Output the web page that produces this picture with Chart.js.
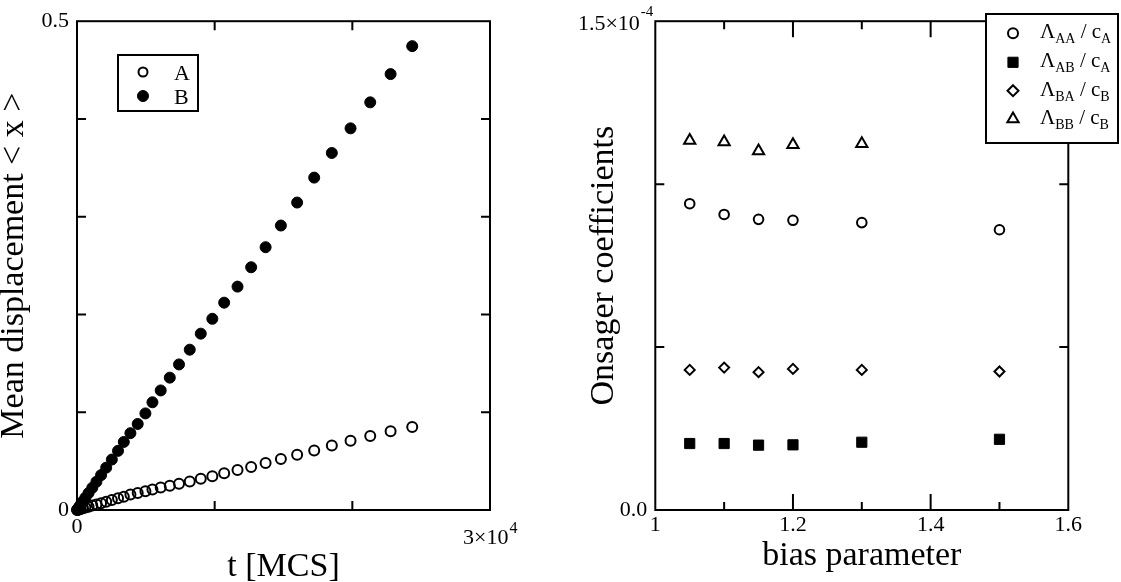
<!doctype html>
<html lang="en">
<head>
<meta charset="UTF-8">
<title>Mean displacement and Onsager coefficients</title>
<script src="https://cdn.jsdelivr.net/npm/chart.js"></script>
<style>
	body { margin: 0; background: #fff; }
	#left { position: absolute; left: 0; top: 0; }
	#right { position: absolute; left: 560px; top: 0; }
</style>
</head>
<body>
<canvas id="left" width="560" height="582"></canvas>
<canvas id="right" width="561" height="582"></canvas>
<script>
// left panel : mean displacement < x > against time
var times = [10, 60, 150, 260, 420, 610, 840, 1110, 1410, 1750, 2120, 2530, 2980, 3400, 3880, 4410, 4970, 5480,
	6080, 6740, 7410, 8190, 8990, 9830, 10690, 11660, 12650, 13700, 14810, 15990, 17230, 18510, 19870, 21300, 22780, 24350];
var dispA = [0.0001, 0.0003, 0.0006, 0.0011, 0.0017, 0.0025, 0.0034, 0.0045, 0.0057, 0.0070, 0.0085, 0.0102, 0.0120,
	0.0136, 0.0158, 0.0174, 0.0192, 0.0209, 0.0229, 0.0249, 0.0269, 0.0292, 0.0320, 0.0346, 0.0376, 0.0410, 0.0441,
	0.0481, 0.0521, 0.0565, 0.0608, 0.0659, 0.0709, 0.0756, 0.0806, 0.0850];
var dispB = [0.0002, 0.0012, 0.0030, 0.0054, 0.0087, 0.0126, 0.0173, 0.0227, 0.0289, 0.0357, 0.0433, 0.0516, 0.0605,
	0.0696, 0.0786, 0.0880, 0.0988, 0.1102, 0.1223, 0.1354, 0.1489, 0.1640, 0.1804, 0.1956, 0.2121, 0.2285, 0.2483,
	0.2688, 0.2910, 0.3145, 0.3400, 0.3652, 0.3904, 0.4170, 0.4459, 0.4745];
var leftLabels = ['A', 'B'];

// right panel : Onsager coefficients against bias parameter
var bias = [1.05, 1.1, 1.15, 1.2, 1.3, 1.5];
var lamAA = [0.940e-4, 0.907e-4, 0.892e-4, 0.889e-4, 0.882e-4, 0.860e-4];
var lamAB = [0.204e-4, 0.204e-4, 0.199e-4, 0.200e-4, 0.208e-4, 0.217e-4];
var lamBA = [0.430e-4, 0.437e-4, 0.423e-4, 0.433e-4, 0.430e-4, 0.425e-4];
var lamBB = [1.134e-4, 1.129e-4, 1.102e-4, 1.121e-4, 1.124e-4]; // the 1.5 point sits under the legend
var rightLabels = ['Λ_{AA} / c_{A}', 'Λ_{AB} / c_{A}', 'Λ_{BA} / c_{B}', 'Λ_{BB} / c_{B}'];

var fam = "'Liberation Serif', 'Times New Roman', serif";

function pts(xs, ys) {
	var out = [];
	for (var i = 0; i < ys.length; i++) out.push({x: xs[i], y: ys[i]});
	return out;
}

function marker(ctx, style, x, y, r) {
	ctx.beginPath();
	if (style === 'rect') {
		var s = r * Math.SQRT1_2;
		ctx.rect(x - s, y - s, 2 * s, 2 * s);
	} else if (style === 'rectRot') {
		ctx.moveTo(x, y - r); ctx.lineTo(x + r, y); ctx.lineTo(x, y + r); ctx.lineTo(x - r, y);
		ctx.closePath();
	} else if (style === 'triangle') {
		var a = 0;
		ctx.moveTo(x + Math.sin(a) * r, y - Math.cos(a) * r);
		a += 2 * Math.PI / 3;
		ctx.lineTo(x + Math.sin(a) * r, y - Math.cos(a) * r);
		a += 2 * Math.PI / 3;
		ctx.lineTo(x + Math.sin(a) * r, y - Math.cos(a) * r);
		ctx.closePath();
	} else {
		ctx.arc(x, y, r, 0, Math.PI * 2);
	}
	ctx.fill();
	ctx.stroke();
}

// frame with inward ticks, exponent labels and the boxed legend
var framePlugin = {
	id: 'frame',
	beforeDatasetsDraw: function(chart, args, o) {
		var ctx = chart.ctx, a = chart.chartArea, xs = chart.scales.x, ys = chart.scales.y;
		ctx.save();
		ctx.strokeStyle = '#000';
		ctx.lineWidth = 2;
		ctx.strokeRect(a.left, a.top, a.right - a.left, a.bottom - a.top);
		ctx.beginPath();
		o.xTicks.forEach(function(t) {
			var p = xs.getPixelForValue(t[0]);
			ctx.moveTo(p, a.bottom); ctx.lineTo(p, a.bottom - t[1]);
			ctx.moveTo(p, a.top); ctx.lineTo(p, a.top + t[1]);
		});
		o.yTicks.forEach(function(t) {
			var p = ys.getPixelForValue(t[0]);
			ctx.moveTo(a.left, p); ctx.lineTo(a.left + t[1], p);
			ctx.moveTo(a.right, p); ctx.lineTo(a.right - t[1], p);
		});
		ctx.stroke();
		ctx.restore();
	},
	afterDraw: function(chart, args, o) {
		var ctx = chart.ctx, a = chart.chartArea;
		ctx.save();
		ctx.fillStyle = '#000';
		ctx.textBaseline = 'alphabetic';
		ctx.textAlign = 'left';

		// exponent tick label
		var e = o.exp, x, y;
		ctx.font = e.size + 'px ' + fam;
		var wMain = ctx.measureText(e.main).width;
		ctx.font = e.supSize + 'px ' + fam;
		var wSup = ctx.measureText(e.sup).width;
		if (e.axis === 'x') {
			x = chart.scales.x.getPixelForValue(e.value) + e.dx;
			y = a.bottom + e.dy;
		} else {
			x = a.left + e.dx - wSup - wMain;
			y = chart.scales.y.getPixelForValue(e.value) + e.dy;
		}
		ctx.font = e.size + 'px ' + fam;
		ctx.fillText(e.main, x, y);
		ctx.font = e.supSize + 'px ' + fam;
		ctx.fillText(e.sup, x + wMain + 1, y - e.rise);

		// legend
		var L = o.legend;
		ctx.fillStyle = '#fff';
		ctx.fillRect(L.box[0], L.box[1], L.box[2] - L.box[0], L.box[3] - L.box[1]);
		ctx.strokeStyle = '#000';
		ctx.lineWidth = 2;
		ctx.strokeRect(L.box[0], L.box[1], L.box[2] - L.box[0], L.box[3] - L.box[1]);
		chart.data.datasets.forEach(function(ds, i) {
			var ry = L.rows[i];
			ctx.fillStyle = ds.backgroundColor;
			ctx.strokeStyle = '#000';
			ctx.lineWidth = ds.borderWidth;
			marker(ctx, ds.pointStyle, L.markerX, ry, L.radius[i]);
			ctx.fillStyle = '#000';
			var parts = ds.label.split(/_\{([^}]*)\}/);
			var tx = L.textX;
			for (var k = 0; k < parts.length; k++) {
				var sub = k % 2 === 1;
				ctx.font = (sub ? L.subSize : L.size) + 'px ' + fam;
				ctx.fillText(parts[k], tx, ry + (sub ? L.subDy : L.dy));
				tx += ctx.measureText(parts[k]).width;
			}
		});
		ctx.restore();
	}
};

var tickFont = {family: fam, size: 22};
var titleFont = {family: fam, size: 34};

new Chart(document.getElementById('left'), {
	type: 'scatter',
	data: {
		datasets: [{
			label: leftLabels[0],
			data: pts(times, dispA),
			pointStyle: 'circle', pointRadius: 5, borderWidth: 2,
			borderColor: '#000', backgroundColor: 'rgba(0,0,0,0)', clip: false
		}, {
			label: leftLabels[1],
			data: pts(times, dispB),
			pointStyle: 'circle', pointRadius: 5.5, borderWidth: 1,
			borderColor: '#000', backgroundColor: '#000', clip: false
		}]
	},
	options: {
		responsive: false,
		animation: false,
		events: [],
		layout: {padding: {left: 0, top: 14, right: 70, bottom: 0}},
		plugins: {
			legend: {display: false},
			tooltip: {enabled: false},
			frame: {
				xTicks: [[10000, 9], [20000, 9]],
				yTicks: [[0.1, 9], [0.2, 9], [0.3, 9], [0.4, 9]],
				exp: {axis: 'x', value: 30000, main: '3×10', sup: '4', size: 22, supSize: 16, dx: -27, dy: 34, rise: 11},
				legend: {box: [118, 55, 198, 111], markerX: 143, textX: 174, rows: [72, 96], radius: [4.5, 5.5],
					size: 22, subSize: 15, dy: 8, subDy: 13}
			}
		},
		scales: {
			x: {
				type: 'linear', min: 0, max: 30000,
				afterFit: function(s) { s.height = 72; },
				grid: {display: false, drawTicks: false}, border: {display: false},
				ticks: {stepSize: 10000, autoSkip: false, maxRotation: 0, padding: 4, color: '#000', font: tickFont,
					callback: function(v) { return v === 0 ? '0' : ''; }},
				title: {display: true, text: 't [MCS]', color: '#000', font: titleFont, padding: {top: 0, bottom: -5}}
			},
			y: {
				type: 'linear', min: 0, max: 0.5,
				afterFit: function(s) { s.width = 77; },
				grid: {display: false, drawTicks: false}, border: {display: false},
				ticks: {stepSize: 0.1, autoSkip: false, padding: 8, color: '#000', font: tickFont,
					callback: function(v) {
						if (Math.abs(v) < 1e-9) return '0';
						if (Math.abs(v - 0.5) < 1e-9) return '0.5';
						return '';
					}},
				title: {display: true, text: 'Mean displacement < x >', color: '#000', font: titleFont, padding: {top: -6, bottom: 0}}
			}
		}
	},
	plugins: [framePlugin]
});

new Chart(document.getElementById('right'), {
	type: 'scatter',
	data: {
		datasets: [{
			label: rightLabels[0], data: pts(bias, lamAA),
			pointStyle: 'circle', pointRadius: 4.8, borderWidth: 2, borderColor: '#000', backgroundColor: 'rgba(0,0,0,0)'
		}, {
			label: rightLabels[1], data: pts(bias, lamAB),
			pointStyle: 'rect', pointRadius: 7.2, borderWidth: 1, borderColor: '#000', backgroundColor: '#000'
		}, {
			label: rightLabels[2], data: pts(bias, lamBA),
			pointStyle: 'rectRot', pointRadius: 5, borderWidth: 2, borderColor: '#000', backgroundColor: 'rgba(0,0,0,0)'
		}, {
			label: rightLabels[3], data: pts(bias, lamBB),
			pointStyle: 'triangle', pointRadius: 6.5, borderWidth: 2, borderColor: '#000', backgroundColor: 'rgba(0,0,0,0)'
		}]
	},
	options: {
		responsive: false,
		animation: false,
		events: [],
		layout: {padding: {left: 0, top: 14, right: 52.7, bottom: 0}},
		plugins: {
			legend: {display: false},
			tooltip: {enabled: false},
			frame: {
				xTicks: [[1.1, 8], [1.2, 16], [1.3, 8], [1.4, 16], [1.5, 8]],
				yTicks: [[0.5e-4, 9], [1.0e-4, 9]],
				exp: {axis: 'y', value: 1.5e-4, main: '1.5×10', sup: '-4', size: 22, supSize: 15, dx: -3, dy: 9, rise: 14},
				legend: {box: [426, 14, 558, 143], markerX: 453, textX: 480, rows: [33.3, 62.3, 90.7, 119], radius: [5, 7.2, 5.5, 6.5],
					size: 21, subSize: 14, dy: 5, subDy: 10}
			}
		},
		scales: {
			x: {
				type: 'linear', min: 1, max: 1.6,
				afterFit: function(s) { s.height = 72; },
				grid: {display: false, drawTicks: false}, border: {display: false},
				ticks: {stepSize: 0.1, autoSkip: false, maxRotation: 0, padding: 2, color: '#000', font: tickFont,
					callback: function(v) {
						var k = Math.round(v * 10);
						if (k % 2) return '';
						return k === 10 ? '1' : (k / 10).toFixed(1);
					}},
				title: {display: true, text: 'bias parameter', color: '#000', font: titleFont, padding: {top: 0, bottom: 6}}
			},
			y: {
				type: 'linear', min: 0, max: 1.5e-4,
				afterFit: function(s) { s.width = 95.3; },
				grid: {display: false, drawTicks: false}, border: {display: false},
				ticks: {stepSize: 0.5e-4, autoSkip: false, padding: 8, color: '#000', font: tickFont,
					callback: function(v) { return Math.abs(v) < 1e-12 ? '0.0' : ''; }},
				title: {display: true, text: 'Onsager coefficients', color: '#000', font: titleFont, padding: {top: 24, bottom: 0}}
			}
		}
	},
	plugins: [framePlugin]
});
</script>
</body>
</html>
